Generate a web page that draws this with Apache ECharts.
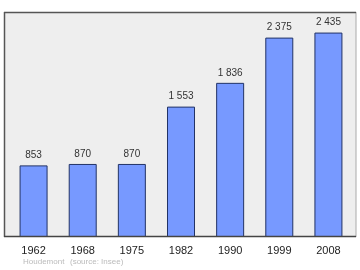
<!DOCTYPE html>
<html><head><meta charset="utf-8">
<script src="https://cdn.jsdelivr.net/npm/echarts@6/dist/echarts.min.js"></script>
<style>html,body{margin:0;padding:0;background:#fff}#c{width:360px;height:270px}</style>
</head><body><div id="c"></div>
<script>
const years = ['1962','1968','1975','1982','1990','1999','2008'];
const population = [853, 870, 870, 1553, 1836, 2375, 2435];
const footerPlace = 'Houdemont';
const footerSource = '(source: Insee)';

const chart = echarts.init(document.getElementById('c'), null, {renderer:'canvas'});
const fmt = v => String(v).replace(/\B(?=(\d{3})+(?!\d))/g, ' ');
chart.setOption({
  animation:false,
  backgroundColor:'#fff',
  graphic:[
    {type:'rect', z:-10, shape:{x:4, y:12, width:352, height:225}, style:{fill:'#eeeeee'}},
    {type:'line', z:10, shape:{x1:356,y1:12,x2:356,y2:237}, style:{stroke:'#aaaaaa', lineWidth:1}},
    {type:'line', z:10, shape:{x1:4,y1:12.5,x2:356,y2:12.5}, style:{stroke:'#555555', lineWidth:1.5}},
    {type:'line', z:10, shape:{x1:4.5,y1:12,x2:4.5,y2:237}, style:{stroke:'#555555', lineWidth:1.5}},
    {type:'line', z:10, shape:{x1:4,y1:236.5,x2:356,y2:236.5}, style:{stroke:'#444444', lineWidth:1.5}},
    {type:'text', left:23, top:258, style:{text:footerPlace, fill:'#bbbbbb', fontSize:8, fontFamily:'Liberation Sans'}},
    {type:'text', left:70, top:258, style:{text:footerSource, fill:'#bbbbbb', fontSize:8, fontFamily:'Liberation Sans'}}
  ],
  grid:{left:9, right:7, top:12, bottom:33},
  xAxis:{type:'category', data:years, axisLine:{show:false}, axisTick:{show:false},
    axisLabel:{color:'#222', fontSize:11, fontFamily:'Liberation Sans', margin:8}},
  yAxis:{type:'value', min:0, max:2680, show:false, splitLine:{show:false}},
  series:[{type:'bar', data:population, barWidth:28,
    itemStyle:{color:'#7799ff', borderColor:'#223366', borderWidth:1},
    label:{show:true, position:'top', distance:5, color:'#333', fontSize:10, fontFamily:'Liberation Sans', formatter:p=>fmt(p.value)}
  }]
});
</script></body></html>
